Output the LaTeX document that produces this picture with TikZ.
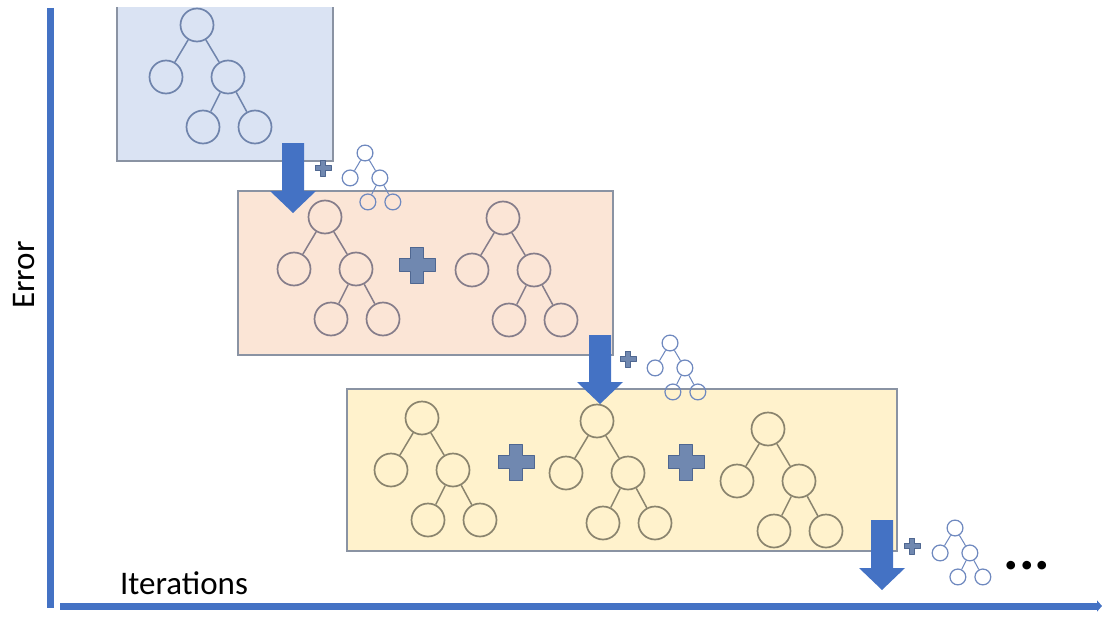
\documentclass[tikz,border=0pt]{standalone}
\usepackage{fontspec}
\setmainfont{Carlito}
\usetikzlibrary{arrows.meta}

\definecolor{axisblue}{HTML}{4472C4}
\definecolor{boxblue}{HTML}{DAE3F3}
\definecolor{boxpeach}{HTML}{FBE5D6}
\definecolor{boxyellow}{HTML}{FFF2CC}
\definecolor{boxline}{HTML}{8A93A3}
\definecolor{plusfill}{HTML}{7088B0}
\definecolor{plusline}{HTML}{4F6791}
\definecolor{treeblue}{HTML}{6F84AC}
\definecolor{treepeach}{HTML}{857D8A}
\definecolor{treeyellow}{HTML}{8A846E}
\definecolor{treesmall}{HTML}{6F89BF}

% tree: name, x, y, scale, colour
\newcommand{\gbtree}[5]{
	\begin{scope}[shift={(#2,#3)}]
	\node[treenode, draw=#5, minimum size={33pt*#4}, line width={0.8pt+0.9pt*#4}] (#1r) at (0,0) {};
	\node[treenode, draw=#5, minimum size={33pt*#4}, line width={0.8pt+0.9pt*#4}] (#1a) at (-31*#4,52*#4) {};
	\node[treenode, draw=#5, minimum size={33pt*#4}, line width={0.8pt+0.9pt*#4}] (#1b) at (31*#4,52*#4) {};
	\node[treenode, draw=#5, minimum size={33pt*#4}, line width={0.8pt+0.9pt*#4}] (#1c) at (6*#4,102*#4) {};
	\node[treenode, draw=#5, minimum size={33pt*#4}, line width={0.8pt+0.9pt*#4}] (#1d) at (58*#4,102*#4) {};
	\draw[draw=#5, line width={0.6pt+0.9pt*#4}] (#1r) -- (#1a);
	\draw[draw=#5, line width={0.6pt+0.9pt*#4}] (#1r) -- (#1b);
	\draw[draw=#5, line width={0.6pt+0.9pt*#4}] (#1b) -- (#1c);
	\draw[draw=#5, line width={0.6pt+0.9pt*#4}] (#1b) -- (#1d);
	\end{scope}
}

% plus sign: x, y, size
\newcommand{\gbplus}[3]{
	\draw[plussign, shift={(#1,#2)}, scale=#3] (-0.17,-0.5) -- (0.17,-0.5) -- (0.17,-0.17) -- (0.5,-0.17) -- (0.5,0.17) -- (0.17,0.17) -- (0.17,0.5) -- (-0.17,0.5) -- (-0.17,0.17) -- (-0.5,0.17) -- (-0.5,-0.17) -- (-0.17,-0.17) -- cycle;
}

% block arrow: x, top, tip
\newcommand{\gbarrow}[3]{
	\fill[axisblue] (#1-11,#2) -- (#1+11,#2) -- (#1+11,#3-22) -- (#1+23,#3-22) -- (#1,#3) -- (#1-23,#3-22) -- (#1-11,#3-22) -- cycle;
}

\begin{document}
\begin{tikzpicture}[x=1pt, y=-1pt,
	treenode/.style={circle, inner sep=0pt},
	plussign/.style={fill=plusfill, draw=plusline, line width=0.8pt, line join=round},
	stagebox/.style={draw=boxline, line width=1.2pt},
	axisline/.style={draw=axisblue, line width=7pt}]
	\useasboundingbox (0,0) rectangle (1102,618);

	% axes
	\coordinate (ytop) at (50,8);
	\coordinate (origin) at (50,608);
	\coordinate (xstart) at (60,606);
	\coordinate (xend) at (1102,606);
	\draw[axisline] (ytop) -- (origin);
	\draw[axisline, -{Triangle[length=5pt, width=11pt]}] (xstart) -- (xend);
	\node[rotate=90, font=\fontsize{33}{36}\selectfont] (err) at (24,275) {Error};
	\node[font=\fontsize{33}{36}\selectfont] (iter) at (184,583) {Iterations};

	% stage boxes
	\fill[boxblue] (117,7) rectangle (333,161);
	\draw[stagebox] (117,7) -- (117,161) -- (333,161) -- (333,7);
	\draw[stagebox, fill=boxpeach] (238,191) rectangle (613,355);
	\draw[stagebox, fill=boxyellow] (347,389) rectangle (897,551);

	% trees in the boxes
	\gbtree{t1}{197}{25}{1}{treeblue}
	\gbtree{t2}{325}{217}{1}{treepeach}
	\gbplus{417}{265}{36}
	\gbtree{t3}{503}{218}{1}{treepeach}
	\gbtree{t4}{422}{418}{1}{treeyellow}
	\gbplus{516}{462}{36}
	\gbtree{t5}{597}{421}{1}{treeyellow}
	\gbplus{686}{462}{36}
	\gbtree{t6}{768}{429}{1}{treeyellow}

	% steps
	\gbarrow{293}{143}{213}
	\gbplus{323}{168}{16}
	\gbtree{s1}{365}{153}{0.48}{treesmall}
	\gbarrow{600}{335}{404}
	\gbplus{628}{359}{16}
	\gbtree{s2}{670}{343}{0.48}{treesmall}
	\gbarrow{882}{520}{590}
	\gbplus{912}{546}{16}
	\gbtree{s3}{955}{528}{0.48}{treesmall}
	\node[font=\bfseries\fontsize{58}{58}\selectfont, inner sep=0pt] (dots) at (1027,566) {...};
\end{tikzpicture}
\end{document}
